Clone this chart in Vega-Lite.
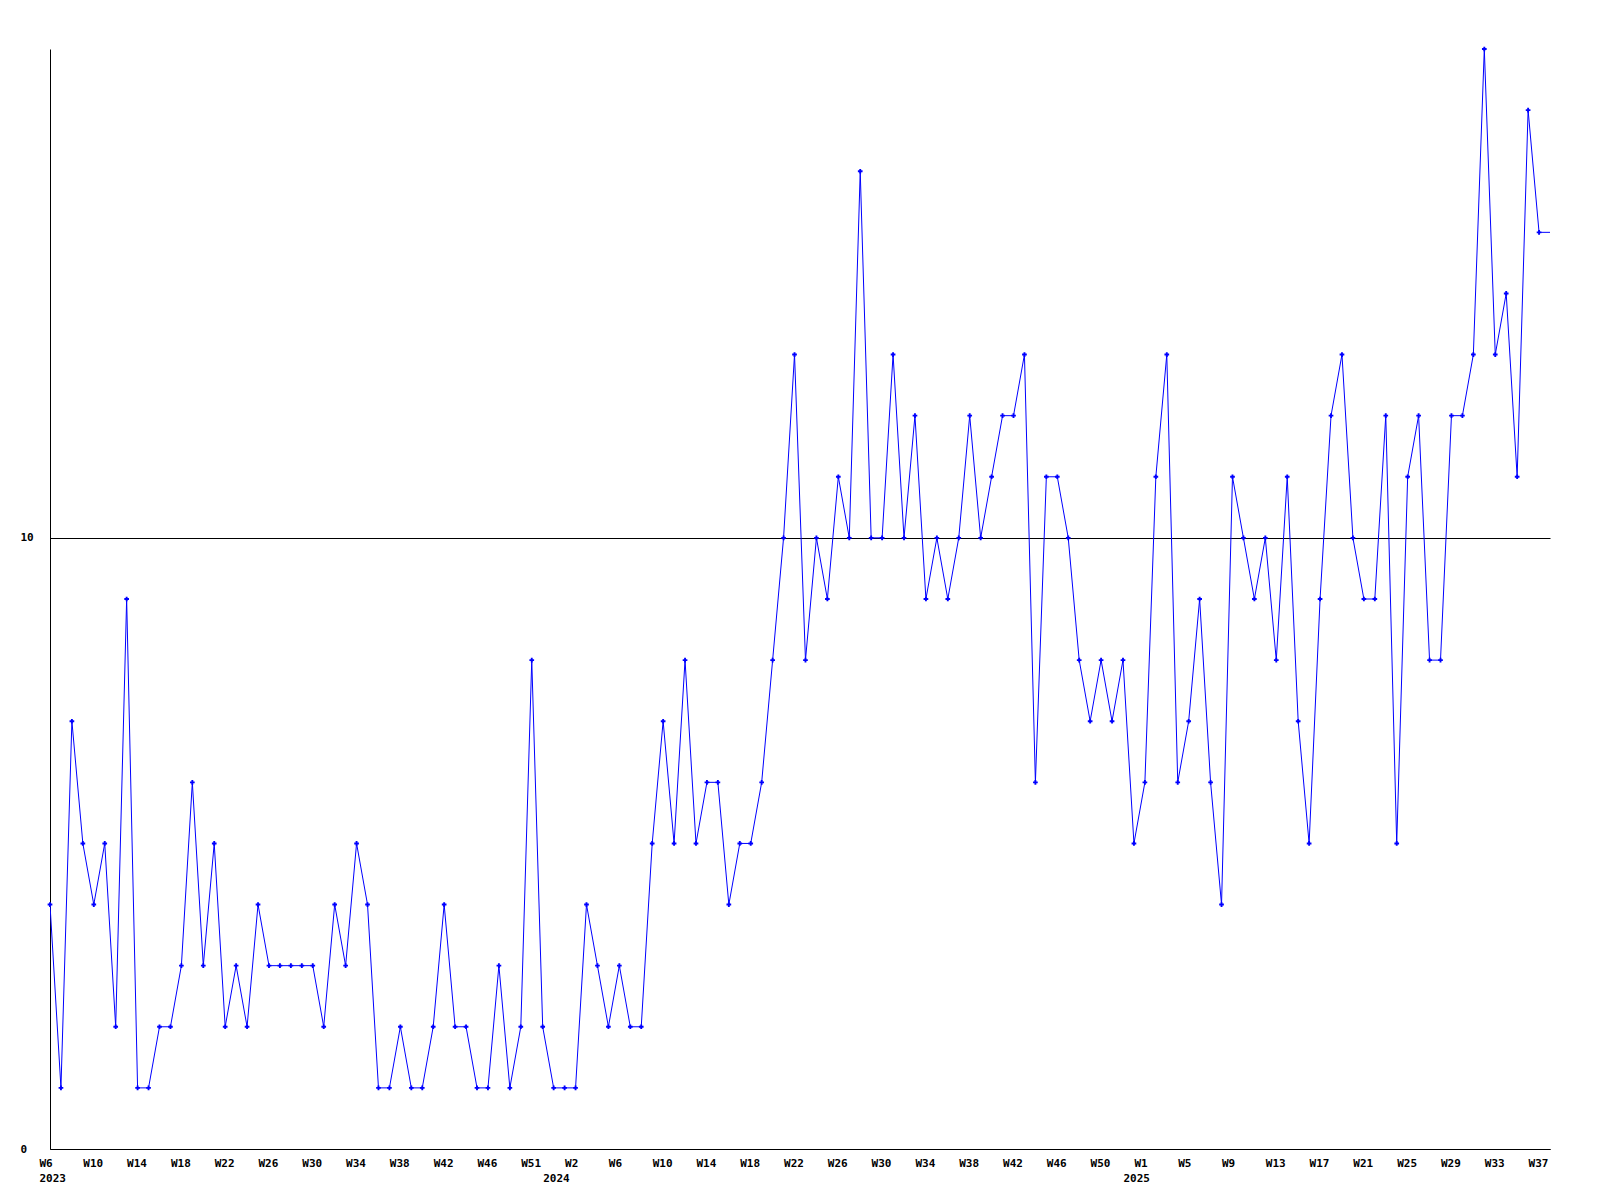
{
  "$schema": "https://vega.github.io/schema/vega-lite/v6.json",
  "width": 1500,
  "height": 1100,
  "autosize": "none",
  "padding": {"left": 50, "top": 49, "right": 50, "bottom": 51},
  "background": "white",
  "config": {
    "view": {"stroke": null},
    "axis": {
      "labelFont": "DejaVu Sans Mono",
      "labelFontWeight": "bold",
      "labelFontSize": 11,
      "labelColor": "black",
      "domainColor": "black",
      "domainWidth": 1,
      "gridColor": "black",
      "gridOpacity": 1,
      "gridWidth": 1
    }
  },
  "data": {
    "values": [
      {"i": 0, "v": 4}, {"i": 1, "v": 1}, {"i": 2, "v": 7}, {"i": 3, "v": 5}, {"i": 4, "v": 4},
      {"i": 5, "v": 5}, {"i": 6, "v": 2}, {"i": 7, "v": 9}, {"i": 8, "v": 1}, {"i": 9, "v": 1},
      {"i": 10, "v": 2}, {"i": 11, "v": 2}, {"i": 12, "v": 3}, {"i": 13, "v": 6}, {"i": 14, "v": 3},
      {"i": 15, "v": 5}, {"i": 16, "v": 2}, {"i": 17, "v": 3}, {"i": 18, "v": 2}, {"i": 19, "v": 4},
      {"i": 20, "v": 3}, {"i": 21, "v": 3}, {"i": 22, "v": 3}, {"i": 23, "v": 3}, {"i": 24, "v": 3},
      {"i": 25, "v": 2}, {"i": 26, "v": 4}, {"i": 27, "v": 3}, {"i": 28, "v": 5}, {"i": 29, "v": 4},
      {"i": 30, "v": 1}, {"i": 31, "v": 1}, {"i": 32, "v": 2}, {"i": 33, "v": 1}, {"i": 34, "v": 1},
      {"i": 35, "v": 2}, {"i": 36, "v": 4}, {"i": 37, "v": 2}, {"i": 38, "v": 2}, {"i": 39, "v": 1},
      {"i": 40, "v": 1}, {"i": 41, "v": 3}, {"i": 42, "v": 1}, {"i": 43, "v": 2}, {"i": 44, "v": 8},
      {"i": 45, "v": 2}, {"i": 46, "v": 1}, {"i": 47, "v": 1}, {"i": 48, "v": 1}, {"i": 49, "v": 4},
      {"i": 50, "v": 3}, {"i": 51, "v": 2}, {"i": 52, "v": 3}, {"i": 53, "v": 2}, {"i": 54, "v": 2},
      {"i": 55, "v": 5}, {"i": 56, "v": 7}, {"i": 57, "v": 5}, {"i": 58, "v": 8}, {"i": 59, "v": 5},
      {"i": 60, "v": 6}, {"i": 61, "v": 6}, {"i": 62, "v": 4}, {"i": 63, "v": 5}, {"i": 64, "v": 5},
      {"i": 65, "v": 6}, {"i": 66, "v": 8}, {"i": 67, "v": 10}, {"i": 68, "v": 13}, {"i": 69, "v": 8},
      {"i": 70, "v": 10}, {"i": 71, "v": 9}, {"i": 72, "v": 11}, {"i": 73, "v": 10}, {"i": 74, "v": 16},
      {"i": 75, "v": 10}, {"i": 76, "v": 10}, {"i": 77, "v": 13}, {"i": 78, "v": 10}, {"i": 79, "v": 12},
      {"i": 80, "v": 9}, {"i": 81, "v": 10}, {"i": 82, "v": 9}, {"i": 83, "v": 10}, {"i": 84, "v": 12},
      {"i": 85, "v": 10}, {"i": 86, "v": 11}, {"i": 87, "v": 12}, {"i": 88, "v": 12}, {"i": 89, "v": 13},
      {"i": 90, "v": 6}, {"i": 91, "v": 11}, {"i": 92, "v": 11}, {"i": 93, "v": 10}, {"i": 94, "v": 8},
      {"i": 95, "v": 7}, {"i": 96, "v": 8}, {"i": 97, "v": 7}, {"i": 98, "v": 8}, {"i": 99, "v": 5},
      {"i": 100, "v": 6}, {"i": 101, "v": 11}, {"i": 102, "v": 13}, {"i": 103, "v": 6}, {"i": 104, "v": 7},
      {"i": 105, "v": 9}, {"i": 106, "v": 6}, {"i": 107, "v": 4}, {"i": 108, "v": 11}, {"i": 109, "v": 10},
      {"i": 110, "v": 9}, {"i": 111, "v": 10}, {"i": 112, "v": 8}, {"i": 113, "v": 11}, {"i": 114, "v": 7},
      {"i": 115, "v": 5}, {"i": 116, "v": 9}, {"i": 117, "v": 12}, {"i": 118, "v": 13}, {"i": 119, "v": 10},
      {"i": 120, "v": 9}, {"i": 121, "v": 9}, {"i": 122, "v": 12}, {"i": 123, "v": 5}, {"i": 124, "v": 11},
      {"i": 125, "v": 12}, {"i": 126, "v": 8}, {"i": 127, "v": 8}, {"i": 128, "v": 12}, {"i": 129, "v": 12},
      {"i": 130, "v": 13}, {"i": 131, "v": 18}, {"i": 132, "v": 13}, {"i": 133, "v": 14}, {"i": 134, "v": 11},
      {"i": 135, "v": 17}, {"i": 136, "v": 15}, {"i": 137, "v": 15}
    ]
  },
  "layer": [
    {
      "mark": {"type": "line", "color": "#0000ff", "strokeWidth": 1, "clip": true},
      "encoding": {
        "x": {
          "field": "i",
          "type": "quantitative",
          "scale": {"domain": [0, 137], "nice": false, "zero": false},
          "axis": {
            "title": null,
            "orient": "bottom",
            "values": [0, 4, 8, 12, 16, 20, 24, 28, 32, 36, 40, 44, 48, 52, 56, 60, 64, 68, 72, 76, 80, 84, 88, 92, 96, 100, 104, 108, 112, 116, 120, 124, 128, 132, 136],
            "labelExpr": "['W6','W10','W14','W18','W22','W26','W30','W34','W38','W42','W46','W51','W2','W6','W10','W14','W18','W22','W26','W30','W34','W38','W42','W46','W50','W1','W5','W9','W13','W17','W21','W25','W29','W33','W37'][round(datum.value/4)]",
            "labelAlign": "left",
            "labelBaseline": "top",
            "labelOffset": -11,
            "labelPadding": 8,
            "labelOverlap": false,
            "labelFlush": false,
            "ticks": false,
            "tickSize": 0,
            "grid": false,
            "domain": true
          }
        },
        "y": {
          "field": "v",
          "type": "quantitative",
          "scale": {"domain": [0, 18], "nice": false, "zero": true},
          "axis": {
            "title": null,
            "values": [0, 10],
            "format": "d",
            "grid": true,
            "labelAlign": "left",
            "labelBaseline": "middle",
            "labelPadding": 30,
            "ticks": false,
            "tickSize": 0,
            "domain": true,
            "labelFlush": false,
            "labelOverlap": false
          }
        }
      }
    },
    {
      "transform": [{"filter": "datum.i <= 136"}],
      "mark": {"type": "point", "shape": "cross", "size": 22, "filled": true, "color": "#0000ff", "opacity": 1},
      "encoding": {
        "x": {
          "field": "i",
          "type": "quantitative",
          "axis": {
            "title": null,
            "orient": "bottom",
            "values": [0, 46, 99],
            "labelExpr": "datum.value == 0 ? '2023' : (datum.value < 60 ? '2024' : '2025')",
            "labelAlign": "left",
            "labelBaseline": "top",
            "labelOffset": -11,
            "labelPadding": 23,
            "labelOverlap": false,
            "labelFlush": false,
            "ticks": false,
            "tickSize": 0,
            "grid": false,
            "domain": false
          }
        },
        "y": {"field": "v", "type": "quantitative"}
      }
    }
  ],
  "resolve": {"axis": {"x": "independent"}}
}
